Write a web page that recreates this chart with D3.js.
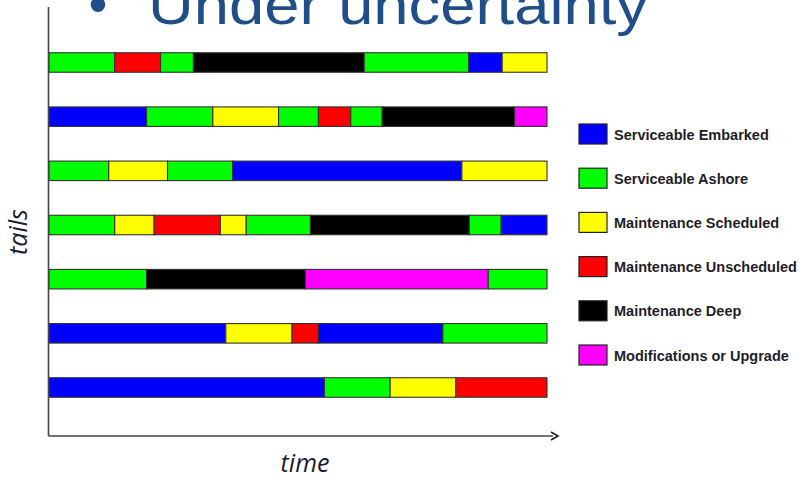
<!DOCTYPE html>
<html>
<head>
<meta charset="utf-8">
<script src="https://cdn.jsdelivr.net/npm/d3@7"></script>
<style>
  html, body { margin: 0; padding: 0; background: #ffffff; }
  svg { display: block; }
</style>
</head>
<body>
<svg id="chart" width="802" height="477"></svg>
<script>
// Fleet status timeline: each tail's history as a sequence of states over time.
const tails = ["Tail 1", "Tail 2", "Tail 3", "Tail 4", "Tail 5", "Tail 6", "Tail 7"];

const stateKeys = ["embarked", "ashore", "scheduled", "unscheduled", "deep", "upgrade"];
const stateLabels = [
  "Serviceable Embarked",
  "Serviceable Ashore",
  "Maintenance Scheduled",
  "Maintenance Unscheduled",
  "Maintenance Deep",
  "Modifications or Upgrade"
];
const stateColors = ["#0000ff", "#00ff00", "#ffff00", "#ff0000", "#000000", "#ff00ff"];

// State sequence of each tail, in order
const tailStates = [
  ["ashore", "unscheduled", "ashore", "deep", "ashore", "embarked", "scheduled"],
  ["embarked", "ashore", "scheduled", "ashore", "unscheduled", "ashore", "deep", "upgrade"],
  ["ashore", "scheduled", "ashore", "embarked", "scheduled"],
  ["ashore", "scheduled", "unscheduled", "scheduled", "ashore", "deep", "ashore", "embarked"],
  ["ashore", "deep", "upgrade", "ashore"],
  ["embarked", "scheduled", "unscheduled", "embarked", "ashore"],
  ["embarked", "ashore", "scheduled", "unscheduled"]
];
// Time at which each of those states ends (time runs 0..100)
const tailStateEnds = [
  [13.2, 22.4, 29.0, 63.3, 84.3, 91.0, 100],
  [19.6, 32.9, 46.1, 54.1, 60.6, 66.9, 93.5, 100],
  [12.0, 23.8, 36.9, 82.9, 100],
  [13.2, 21.1, 34.4, 39.6, 52.5, 84.4, 90.8, 100],
  [19.6, 51.5, 88.2, 100],
  [35.5, 48.8, 54.1, 79.1, 100],
  [55.3, 68.5, 81.7, 100]
];
const timeDomain = [0, 100];

// Segments built from the arrays above
const segments = [];
tails.forEach((tail, i) => {
  let start = timeDomain[0];
  tailStates[i].forEach((state, j) => {
    const end = tailStateEnds[i][j];
    segments.push({ tail, state, start, end });
    start = end;
  });
});

const svg = d3.select("#chart");

const x = d3.scaleLinear().domain(timeDomain).range([49, 547]);
const y = d3.scalePoint().domain(tails).range([62.5, 387.5]);
const barH = 19.5;
const color = d3.scaleOrdinal().domain(stateKeys).range(stateColors);

// Heading
const title = svg.append("g").attr("fill", "#1f4e89")
  .style("font-family", "'Liberation Sans', Arial, sans-serif");
title.append("text").attr("x", 98).attr("y", 23).attr("text-anchor", "middle")
  .attr("font-size", 54).text("•");
title.append("text").attr("x", 148).attr("y", 24)
  .attr("font-size", 56)
  .attr("textLength", 500).attr("lengthAdjust", "spacingAndGlyphs")
  .text("Under uncertainty");

// Bars
svg.append("g")
  .selectAll("rect")
  .data(segments)
  .join("rect")
  .attr("x", d => x(d.start))
  .attr("y", d => y(d.tail) - barH / 2)
  .attr("width", d => x(d.end) - x(d.start))
  .attr("height", barH)
  .attr("fill", d => color(d.state))
  .attr("stroke", "#333333")
  .attr("stroke-width", 1.1);

// Axes: plain lines, arrow on the time axis
const axisColor = "#454545";
const y0 = 436;
svg.append("line")
  .attr("x1", 48.5).attr("x2", 48.5).attr("y1", 7).attr("y2", y0)
  .attr("stroke", axisColor).attr("stroke-width", 1.6);
svg.append("line")
  .attr("x1", 48.5).attr("x2", 553).attr("y1", y0).attr("y2", y0)
  .attr("stroke", axisColor).attr("stroke-width", 1.6);
svg.append("path")
  .attr("d", d3.line()([[551, y0 - 4], [558, y0], [551, y0 + 4]]))
  .attr("fill", "none").attr("stroke", "#222").attr("stroke-width", 1.6);

const axisFont = "'Open Sans', 'DejaVu Sans', sans-serif";
svg.append("text")
  .attr("x", 305).attr("y", 472)
  .attr("text-anchor", "middle")
  .style("font-family", axisFont).style("font-style", "italic")
  .attr("font-size", 25).attr("fill", "#1b1b33")
  .text("time");
svg.append("text")
  .attr("transform", "translate(27,232) rotate(-90)")
  .attr("text-anchor", "middle")
  .style("font-family", axisFont).style("font-style", "italic")
  .attr("font-size", 25).attr("fill", "#1b1b33")
  .text("tails");

// Legend
const ly = d3.scalePoint().domain(stateKeys).range([124, 345]);
const legend = svg.append("g")
  .selectAll("g")
  .data(stateKeys)
  .join("g")
  .attr("transform", d => `translate(579,${ly(d)})`);
legend.append("rect")
  .attr("width", 28).attr("height", 20)
  .attr("fill", d => color(d))
  .attr("stroke", "#222").attr("stroke-width", 1.2);
legend.append("text")
  .attr("x", 35).attr("y", 15.5)
  .style("font-family", "'Liberation Sans', Arial, sans-serif")
  .attr("font-weight", "bold").attr("font-size", 14.5)
  .attr("fill", "#1e1e28")
  .text((d, i) => stateLabels[i]);
</script>
</body>
</html>
